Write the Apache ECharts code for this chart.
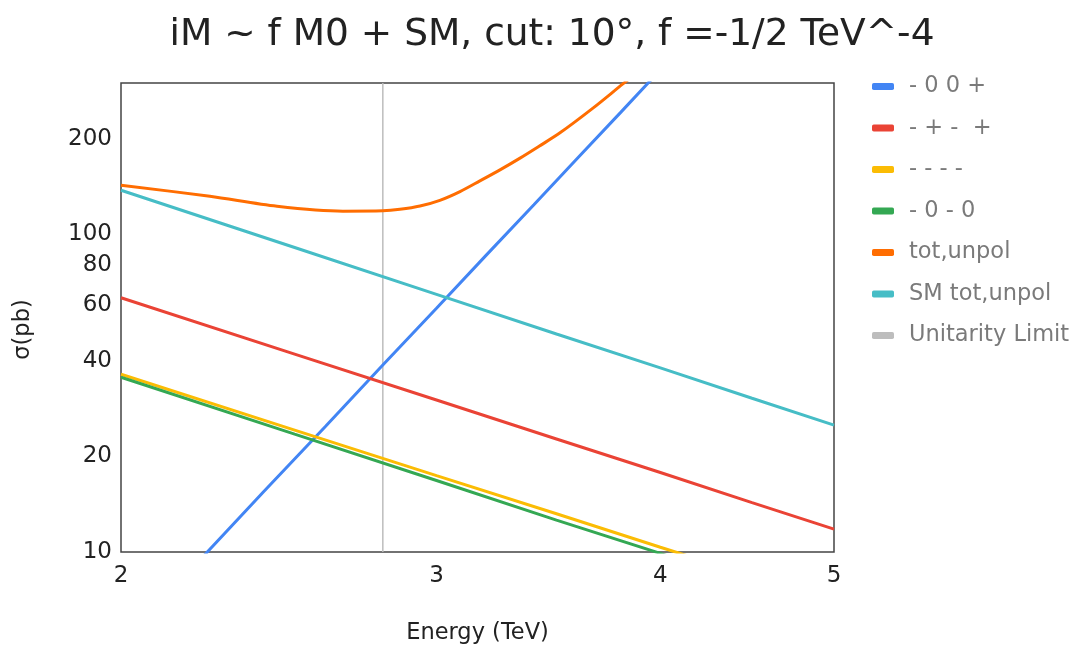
<!DOCTYPE html>
<html>
<head>
<meta charset="utf-8">
<script src="https://cdn.jsdelivr.net/npm/echarts@6/dist/echarts.min.js"></script>
<style>
    html, body { margin: 0; padding: 0; background: #fff; }
    #chart { width: 1080px; height: 645px; }
</style>
</head>
<body>
<div id="chart"></div>
<script>
// energy in TeV, sigma in pb
let energyAll = [2.0, 2.5, 3.0, 3.5, 4.0, 4.5, 5.0];
let sigmaMinus00Plus = [[2.2, 9.1], [2.4, 15.4], [2.6, 24.8], [2.8, 38.8], [3.0, 58.6], [3.2, 86.4], [3.4, 124], [3.6, 175], [3.8, 242], [4.0, 330]];
let sigmaMinusPlusMinusPlus = [63.2, 42.0, 30.1, 22.7, 17.8, 14.3, 11.8];
let sigmaAllMinus = [36.3, 24.2, 17.4, 13.2, 10.35, 8.4, null];
let sigmaMinus0Minus0 = [35.5, 23.5, 16.8, 12.6, 9.9, 7.9, null];
let sigmaTotUnpol = [[2.0, 143], [2.242, 131.9], [2.444, 122.7], [2.66, 118.4], [2.8, 118.7], [2.862, 120.0], [2.937, 122.9], [3.013, 128.1], [3.092, 136.5], [3.172, 147.5], [3.255, 159.8], [3.34, 174], [3.427, 190.5], [3.516, 209], [3.668, 250], [3.812, 298], [3.9, 330]];
let sigmaSmTotUnpol = [137.8, 91.0, 64.8, 48.6, 38.0, 30.5, 25.1];
let unitarityLimit = [[2.8, 10], [2.8, 300]];

let xTicks = [2, 3, 4, 5];
let yTicks = [10, 20, 40, 60, 80, 100, 200];

let colorList = ['#4285f4', '#ea4335', '#fbbc04', '#34a853', '#ff6d01', '#46bdc6', '#bdbdbd'];
let names = ['- 0 0 +', '- + -  +', '- - - -', '- 0 - 0', 'tot,unpol', 'SM tot,unpol', 'Unitarity Limit'];

function pairUp(xs, ys) {
    let out = [];
    for (let i = 0; i < xs.length; i++) {
        if (ys[i] != null) {
            out.push([xs[i], ys[i]]);
        }
    }
    return out;
}

let seriesData = [
    sigmaMinus00Plus,
    pairUp(energyAll, sigmaMinusPlusMinusPlus),
    pairUp(energyAll, sigmaAllMinus),
    pairUp(energyAll, sigmaMinus0Minus0),
    sigmaTotUnpol,
    pairUp(energyAll, sigmaSmTotUnpol),
    unitarityLimit
];

let font = 'DejaVu Sans';
let chart = echarts.init(document.getElementById('chart'));
let series = [];
for (let i = 0; i < names.length; i++) {
    series.push({
        name: names[i],
        type: 'line',
        data: seriesData[i],
        showSymbol: false,
        symbol: 'none',
        smooth: i == 4 ? 0.3 : false,
        clip: true,
        lineStyle: {
            width: i == 6 ? 1.5 : 3,
            color: colorList[i]
        },
        itemStyle: { color: colorList[i] },
        z: i == 6 ? 1 : 2
    });
}

let option = {
    animation: false,
    color: colorList,
    title: {
        text: 'iM ~ f M0 + SM, cut: 10°, f =-1/2 TeV^-4',
        left: 547,
        textAlign: 'center',
        top: 11,
        textStyle: {
            fontFamily: font,
            fontSize: 37.5,
            fontWeight: 'normal',
            color: '#222'
        }
    },
    legend: {
        orient: 'vertical',
        left: 867,
        top: 70,
        itemWidth: 22,
        itemHeight: 7,
        itemGap: 18.5,
        icon: 'roundRect',
        textStyle: {
            fontFamily: font,
            fontSize: 22.5,
            color: '#7a7a7a',
            padding: [0, 0, 0, 10]
        },
        data: names
    },
    grid: {
        left: 121,
        right: 246,
        top: 83,
        bottom: 93,
        outerBoundsMode: 'none',
        show: true,
        borderColor: '#444',
        borderWidth: 1.5
    },
    xAxis: {
        type: 'log',
        logBase: 10,
        min: 2,
        max: 5,
        name: 'Energy (TeV)',
        nameLocation: 'middle',
        nameGap: 70,
        nameTextStyle: { fontFamily: font, fontSize: 22.5, color: '#222' },
        axisLine: { show: false },
        axisTick: { show: false },
        splitLine: { show: false },
        axisLabel: {
            customValues: xTicks,
            fontFamily: font,
            fontSize: 23,
            color: '#222',
            margin: 13
        }
    },
    yAxis: {
        type: 'log',
        logBase: 10,
        min: 10,
        max: 300,
        name: 'σ(pb)',
        nameLocation: 'middle',
        nameRotate: 90,
        nameGap: 86,
        nameTextStyle: { fontFamily: font, fontSize: 22.5, color: '#222', padding: [0, 24, 0, 0] },
        axisLine: { show: false },
        axisTick: { show: false },
        splitLine: { show: false },
        axisLabel: {
            customValues: yTicks,
            fontFamily: font,
            fontSize: 23,
            color: '#222',
            margin: 9
        }
    },
    series: series
};
chart.setOption(option);
</script>
</body>
</html>
